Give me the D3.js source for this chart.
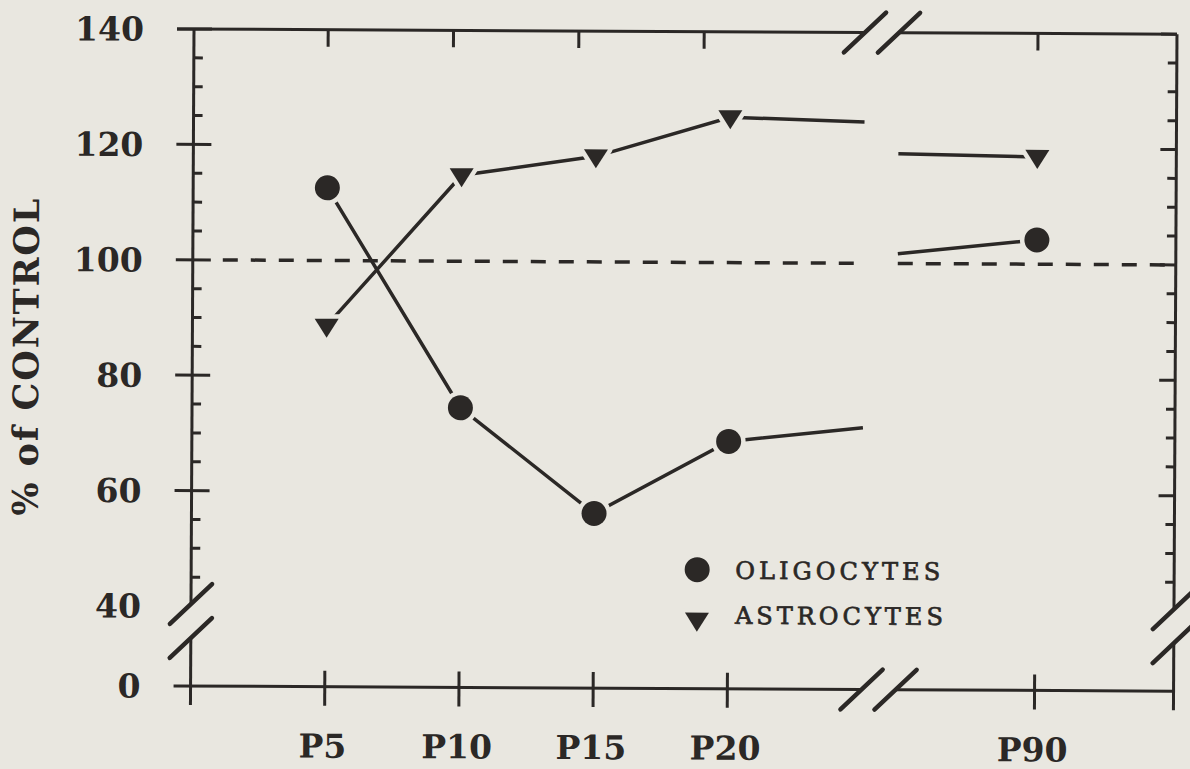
<!DOCTYPE html>
<html>
<head>
<meta charset="utf-8">
<script src="https://cdn.jsdelivr.net/npm/d3@7"></script>
<style>
    html, body { margin: 0; padding: 0; background: #e9e7e0; }
    svg { display: block; }
</style>
</head>
<body>
<svg id="chart" width="1190" height="769"></svg>
<script>
// ages (postnatal day) and values, % of control
const days = [5, 10, 15, 20];
const oligocytes = [112.6, 74.6, 56.4, 69.0];
const astrocytes = [88.7, 114.9, 118.3, 125.2];
const lateDay = 90;
const oligoLate = 104.2;
const astroLate = 118.6;

// the curves run on into the axis break and come back out of it
const breakDays = [25, 85];
const oligoBreak = [71.5, 101.7];
const astroBreak = [124.5, 119.0];

const tickDays = [5, 10, 15, 20, 90];
const tickLabels = ["P5", "P10", "P15", "P20", "P90"];
const yLabels = [0, 40, 60, 80, 100, 120, 140];
const yMajor = [60, 80, 100, 120, 140];
const yMinor = d3.range(45, 140, 5).filter(v => v % 20 !== 0);
const legendNames = ["OLIGOCYTES", "ASTROCYTES"];

const ink = "#2b2826";
const paper = "#e9e7e0";

const svg = d3.select("#chart");

// the scanned page is tilted a little
const g = svg.append("g").attr("transform", "rotate(0.3,194,29)");

// broken axes: 40..0 squeezed on y, 25..85 cut out on x
const x = d3.scaleLinear().domain([0, 25, 85, 95]).range([194, 865, 899, 1177]);
const xTop = d3.scaleLinear().domain([5, 20, 90]).range([x(5), x(5) + 376, x(90)]);
const y = d3.scaleLinear().domain([0, 40, 140]).range([686, 606, 29]);

const xLeft = x(0), xRight = x(95), yTop = y(140), yBottom = y(0);
const gapX = [x(25), x(85)];
const gapY = [604, 638];

function seg(x1, y1, x2, y2, w) {
    g.append("line")
        .attr("x1", x1).attr("y1", y1).attr("x2", x2).attr("y2", y2)
        .attr("stroke", ink).attr("stroke-width", w || 3);
}

function slash(cx, cy) {
    g.append("line")
        .attr("x1", cx - 21).attr("y1", cy + 20)
        .attr("x2", cx + 21).attr("y2", cy - 20)
        .attr("stroke", ink).attr("stroke-width", 4.5)
        .attr("stroke-linecap", "round");
}

// frame
seg(xLeft - 17, yTop, gapX[0], yTop);
seg(gapX[1], yTop, xRight, yTop);
seg(xLeft - 17, yBottom, gapX[0], yBottom);
seg(gapX[1], yBottom, xRight, yBottom);
seg(xLeft, yTop, xLeft, gapY[0]);
seg(xLeft, gapY[1], xLeft, yBottom + 19);
seg(xRight, yTop, xRight, gapY[0]);
seg(xRight, gapY[1], xRight, yBottom + 19);

gapX.forEach(gx => { slash(gx, yTop); slash(gx, yBottom); });
gapY.forEach(gy => { slash(xLeft, gy); slash(xRight, gy); });

// y ticks
yMajor.forEach(v => {
    seg(xLeft - 17, y(v), xLeft + 18, y(v));
    seg(xRight - 16, y(v), xRight, y(v));
});
yMinor.forEach(v => {
    seg(xLeft, y(v), xLeft + 9, y(v));
    seg(xRight - 9, y(v), xRight, y(v));
});

// x ticks
tickDays.forEach(d => {
    seg(x(d), yBottom - 16, x(d), yBottom + 19);
    seg(xTop(d), yTop, xTop(d), yTop + 17);
});

// 100 % reference line
[[xLeft + 30, gapX[0]], [gapX[1], xRight]].forEach(([a, b]) => {
    g.append("line")
        .attr("x1", a).attr("x2", b)
        .attr("y1", y(100)).attr("y2", y(100))
        .attr("stroke", ink).attr("stroke-width", 3.5)
        .attr("stroke-dasharray", "15,13");
});

// labels
g.selectAll(".ylab").data(yLabels).join("text")
    .attr("class", "ylab")
    .attr("x", 144).attr("y", v => y(v) + 12)
    .attr("text-anchor", "end")
    .attr("font-family", "DejaVu Serif").attr("font-weight", "bold")
    .attr("font-size", 33).attr("fill", ink)
    .text(v => v);

g.selectAll(".xlab").data(tickDays).join("text")
    .attr("class", "xlab")
    .attr("x", d => x(d) - 2).attr("y", 757)
    .attr("text-anchor", "middle")
    .attr("font-family", "DejaVu Serif").attr("font-weight", "bold")
    .attr("font-size", 33).attr("fill", ink)
    .text((d, i) => tickLabels[i]);

g.append("text")
    .attr("transform", "translate(40,358) rotate(-90)")
    .attr("text-anchor", "middle")
    .attr("font-family", "DejaVu Serif").attr("font-weight", "bold")
    .attr("font-size", 35).attr("fill", ink)
    .attr("textLength", 317).attr("lengthAdjust", "spacing")
    .text("% of CONTROL");

// series
const series = [
    { name: legendNames[0], shape: "circle",
      early: days.concat(breakDays[0]).map((d, i) => [d, oligocytes.concat(oligoBreak[0])[i]]),
      late: [[breakDays[1], oligoBreak[1]], [lateDay, oligoLate]],
      points: days.map((d, i) => [d, oligocytes[i]]).concat([[lateDay, oligoLate]]) },
    { name: legendNames[1], shape: "triangle",
      early: days.concat(breakDays[0]).map((d, i) => [d, astrocytes.concat(astroBreak[0])[i]]),
      late: [[breakDays[1], astroBreak[1]], [lateDay, astroLate]],
      points: days.map((d, i) => [d, astrocytes[i]]).concat([[lateDay, astroLate]]) }
];

const line = d3.line().x(d => x(d[0])).y(d => y(d[1]));
const tri = "M-12,-7L12,-7L0,12Z";

series.forEach(s => {
    [s.early, s.late].forEach(pts => {
        g.append("path")
            .attr("d", line(pts))
            .attr("fill", "none")
            .attr("stroke", ink).attr("stroke-width", 3.5);
    });
});

function marker(sel, shape) {
    // paper-coloured halo keeps the lines off the symbols
    if (shape === "circle") {
        sel.append("circle").attr("r", 12.5)
            .attr("fill", ink).attr("stroke", paper).attr("stroke-width", 9)
            .attr("paint-order", "stroke");
    } else {
        sel.append("path").attr("d", tri)
            .attr("fill", ink).attr("stroke", paper).attr("stroke-width", 9)
            .attr("stroke-linejoin", "round")
            .attr("paint-order", "stroke");
    }
}

series.forEach(s => {
    g.selectAll(null).data(s.points).join("g")
        .attr("transform", d => `translate(${x(d[0])},${y(d[1])})`)
        .call(sel => marker(sel, s.shape));
});

// legend
series.forEach((s, i) => {
    const ly = 567 + i * 45;
    g.append("g")
        .attr("transform", `translate(700,${i === 0 ? ly : ly + 5})`)
        .call(sel => marker(sel, s.shape));
    g.append("text")
        .attr("x", 738).attr("y", ly + 9)
        .attr("font-family", "DejaVu Serif")
        .attr("font-size", 24).attr("fill", ink)
        .attr("stroke", ink).attr("stroke-width", 0.7)
        .attr("textLength", i === 0 ? 205 : 208).attr("lengthAdjust", "spacing")
        .text(s.name);
});
</script>
</body>
</html>
